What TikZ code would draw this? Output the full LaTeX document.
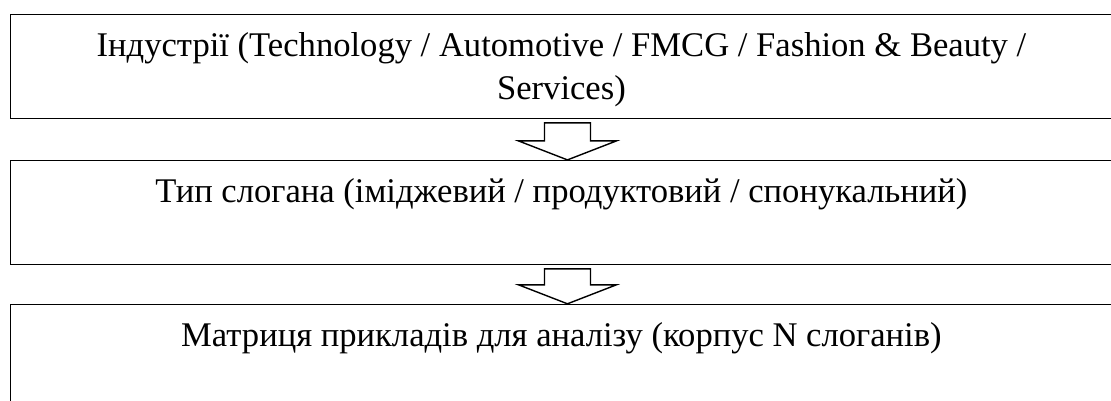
\documentclass[tikz,border=0pt]{standalone}
\usepackage{fontspec}
\setmainfont{Liberation Serif}
\usetikzlibrary{positioning,calc}
\newcommand\stagefont{\fontsize{34.6pt}{43pt}\selectfont}
\newcommand\stagetext[1]{\parbox[c][104pt][t]{1102pt}{\centering\rule{0pt}{42pt}#1}}
\newcommand\stagearrow[2]{%
  \draw[blockarr] let \p1=($(#1.south)+(6pt,0)$), \p2=($(#2.north)+(6pt,0)$) in
    (\x1-23pt,\y1-4pt) -- (\x1-23pt,\y2+19pt) -- (\x1-49pt,\y2+19pt) -- (\x2,\y2)
    -- (\x1+49pt,\y2+19pt) -- (\x1+23pt,\y2+19pt) -- (\x1+23pt,\y1-4pt) -- cycle;}
\tikzset{
  stage/.style={
    draw=black, line width=0.9pt, inner sep=0pt,
    font=\stagefont
  },
  blockarr/.style={draw=black, fill=white, line width=1.4pt, line join=miter}
}
\begin{document}
\begin{tikzpicture}[node distance=41pt]
  \useasboundingbox (0,0) rectangle (1111pt,-401pt);
  \node[stage, anchor=north west] (ind) at (10pt,-14pt)
    {\stagetext{Індустрії (Technology / Automotive / FMCG / Fashion \& Beauty /\\Services)}};
  \node[stage, below=41pt of ind] (typ)
    {\stagetext{Тип слогана (іміджевий / продуктовий / спонукальний)}};
  \node[stage, below=39pt of typ] (mat)
    {\stagetext{Матриця прикладів для аналізу (корпус N слоганів)}};
  \stagearrow{ind}{typ}
  \stagearrow{typ}{mat}
\end{tikzpicture}
\end{document}
